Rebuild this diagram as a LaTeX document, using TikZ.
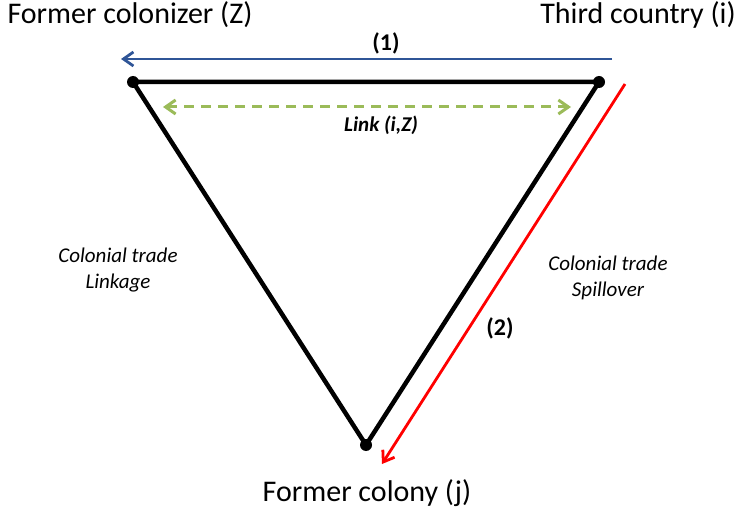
\documentclass[tikz,border=0pt]{standalone}
\usepackage{fontspec}
\setmainfont{Carlito}
\usetikzlibrary{arrows.meta}
\definecolor{arrowblue}{RGB}{47,85,151}
\definecolor{linkgreen}{RGB}{155,187,89}

\begin{document}
\begin{tikzpicture}[x=1pt,y=-1pt,>={Straight Barb[length=10pt,width=14pt]}]

    \useasboundingbox (0,0) rectangle (737,516);

    \tikzset{vertex/.style={circle,
                            fill = black,
                            inner sep = 0pt,
                            minimum size = 12pt},
             country/.style={font = \fontsize{30}{36}\selectfont},
             comment/.style={font = \fontsize{21}{26}\selectfont\itshape,
                             align = center},
             flowlab/.style={font = \fontsize{24}{28}\selectfont\bfseries}}

    \node[vertex] (z) at (133,82) {};
    \node[vertex] (i) at (599,82) {};
    \node[vertex] (j) at (366,445) {};

    \node[country] (zlab) at (130,15) {Former colonizer (Z)};
    \node[country] (ilab) at (638,15) {Third country (i)};
    \node[country] (jlab) at (367,493) {Former colony (j)};

    \draw[line width = 4.5pt, line join = round] (z.center) -- (i.center) -- (j.center) -- cycle;

    % flows
    \coordinate (b1) at (612,59);
    \coordinate (b2) at (121,59);
    \coordinate (g1) at (163,107);
    \coordinate (g2) at (571,107);
    \coordinate (r1) at (625,84);
    \coordinate (r2) at (382,464);

    \path
    (b1) edge [->, arrowblue, line width = 2.8pt] (b2)
    (g1) edge [<->, linkgreen, dash pattern = on 10pt off 7pt, line width = 3pt] (g2)
    (r1) edge [->, red, line width = 2.8pt] (r2);

    \node[flowlab] (one) at (386,43) {(1)};
    \node[flowlab] (two) at (500,328) {(2)};
    \node[flowlab, font = \fontsize{21}{26}\selectfont\bfseries\itshape] (linklab) at (381,125) {Link (i,Z)};

    \node[comment] (link) at (118,270) {Colonial trade\\Linkage};
    \node[comment] (spill) at (608,278) {Colonial trade\\Spillover};

\end{tikzpicture}
\end{document}
